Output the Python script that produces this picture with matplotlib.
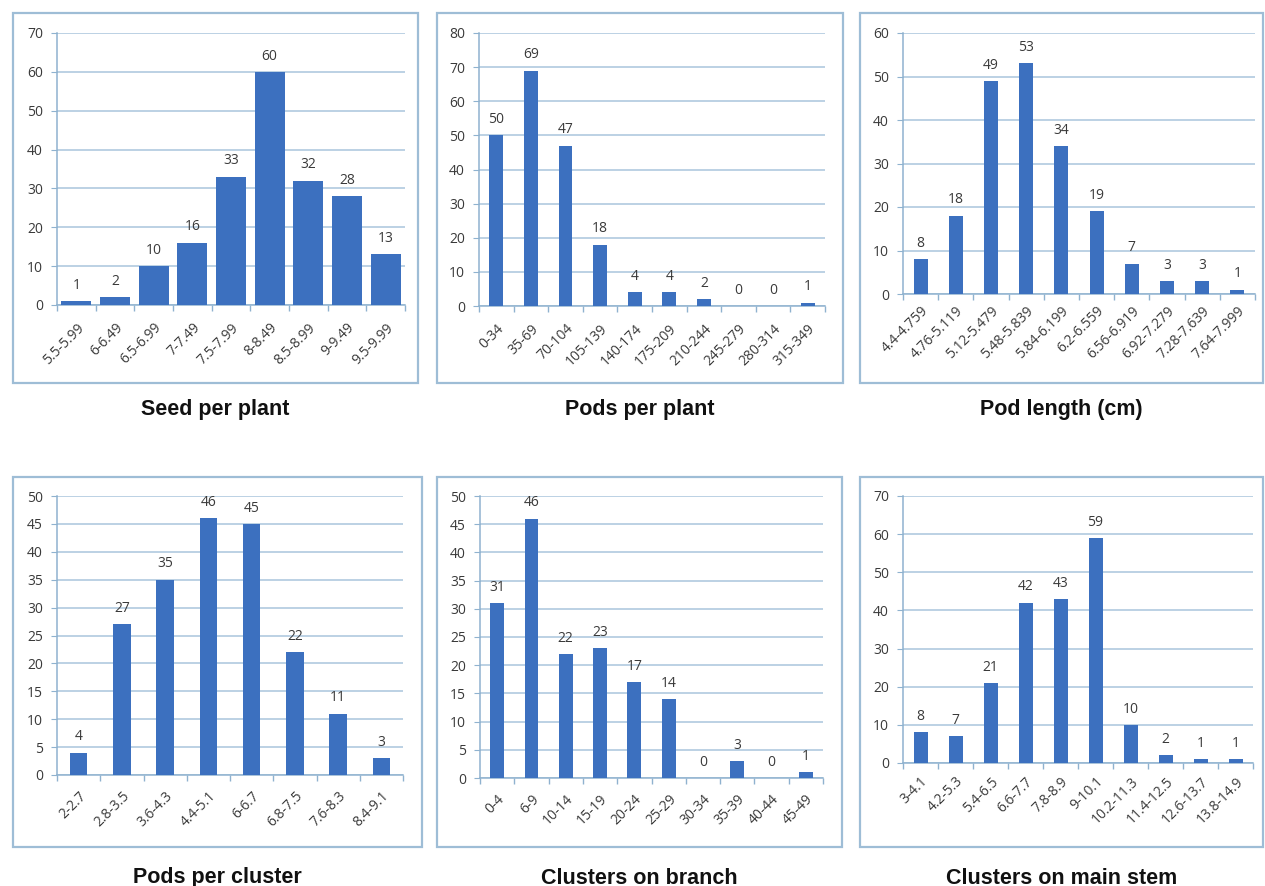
import matplotlib
matplotlib.use("Agg")
import matplotlib.pyplot as plt
from matplotlib.patches import Rectangle
import numpy as np

# class intervals and plant counts for each trait
seed_labels = ["5.5-5.99", "6-6.49", "6.5-6.99", "7-7.49", "7.5-7.99",
               "8-8.49", "8.5-8.99", "9-9.49", "9.5-9.99"]
seed_counts = [1, 2, 10, 16, 33, 60, 32, 28, 13]

pods_labels = ["0-34", "35-69", "70-104", "105-139", "140-174",
               "175-209", "210-244", "245-279", "280-314", "315-349"]
pods_counts = [50, 69, 47, 18, 4, 4, 2, 0, 0, 1]

length_labels = ["4.4-4.759", "4.76-5.119", "5.12-5.479", "5.48-5.839",
                 "5.84-6.199", "6.2-6.559", "6.56-6.919", "6.92-7.279",
                 "7.28-7.639", "7.64-7.999"]
length_counts = [8, 18, 49, 53, 34, 19, 7, 3, 3, 1]

cluster_labels = ["2-2.7", "2.8-3.5", "3.6-4.3", "4.4-5.1", "6-6.7",
                  "6.8-7.5", "7.6-8.3", "8.4-9.1"]
cluster_counts = [4, 27, 35, 46, 45, 22, 11, 3]

branch_labels = ["0-4", "6-9", "10-14", "15-19", "20-24", "25-29",
                 "30-34", "35-39", "40-44", "45-49"]
branch_counts = [31, 46, 22, 23, 17, 14, 0, 3, 0, 1]

stem_labels = ["3-4.1", "4.2-5.3", "5.4-6.5", "6.6-7.7", "7.8-8.9",
               "9-10.1", "10.2-11.3", "11.4-12.5", "12.6-13.7", "13.8-14.9"]
stem_counts = [8, 7, 21, 42, 43, 59, 10, 2, 1, 1]

titles = ["Seed per plant", "Pods per plant", "Pod length (cm)",
          "Pods per cluster", "Clusters on branch", "Clusters on main stem"]

W, H = 1265, 886
BAR = "#3c70bf"
GRID = "#a9c5dc"
AXIS = "#8fb2cf"
FRAME = "#9ebdd6"
TXT = "#3a3a3a"

plt.rcParams["font.family"] = ["Open Sans", "DejaVu Sans"]

fig = plt.figure(figsize=(W / 100, H / 100), dpi=100)


def px_axes(x0, y0, x1, y1):
    return fig.add_axes([x0 / W, 1 - y1 / H, (x1 - x0) / W, (y1 - y0) / H])


def frame(x0, y0, x1, y1):
    fig.patches.append(Rectangle((x0 / W, 1 - y1 / H), (x1 - x0) / W, (y1 - y0) / H,
                                 transform=fig.transFigure, fill=False,
                                 edgecolor=FRAME, linewidth=1.6))


def panel(box, fbox, labels, counts, ymax, step, width, title, title_y, pad):
    frame(*fbox)
    ax = px_axes(*box)
    n = len(counts)
    x = np.arange(n)
    ax.bar(x, counts, width=width, color=BAR, zorder=3)
    for xi, v in zip(x, counts):
        ax.annotate(str(v), (xi, v), xytext=(0, 6), textcoords="offset points",
                    ha="center", va="bottom", fontsize=10, color=TXT)
    ax.set_xlim(-0.5, n - 0.5)
    ax.set_ylim(0, ymax)
    ax.set_yticks(np.arange(0, ymax + 1, step))
    ax.yaxis.grid(True, color=GRID, linewidth=1.1, zorder=0)
    ax.set_axisbelow(True)
    ax.set_xticks(x)
    ax.set_xticklabels(labels, rotation=45, ha="right", rotation_mode="anchor",
                       fontsize=10, color=TXT)
    ax.set_xticks(np.arange(-0.5, n, 1), minor=True)
    ax.tick_params(axis="x", which="major", length=0, pad=pad)
    ax.tick_params(axis="x", which="minor", length=4, color=AXIS, width=1)
    ax.tick_params(axis="y", length=4, color=AXIS, labelsize=10, labelcolor=TXT, pad=6)
    for s in ("top", "right"):
        ax.spines[s].set_visible(False)
    for s in ("left", "bottom"):
        ax.spines[s].set_color(AXIS)
        ax.spines[s].set_linewidth(1.1)
    cx = (fbox[0] + fbox[2]) / 2
    fig.text(cx / W, 1 - title_y / H, title, ha="center", va="center",
             fontsize=15.5, fontweight="bold", family="Liberation Sans", color="#111111")


panel((57, 33, 405, 305), (13, 13, 418, 383), seed_labels, seed_counts,
      70, 10, 0.78, titles[0], 409, 11)
panel((479, 33, 825, 306), (437, 13, 843, 383), pods_labels, pods_counts,
      80, 10, 0.4, titles[1], 409, 11)
panel((903, 33, 1255, 294), (860, 13, 1263, 383), length_labels, length_counts,
      60, 10, 0.4, titles[2], 409, 7)
panel((57, 496, 403, 775), (13, 477, 422, 847), cluster_labels, cluster_counts,
      50, 5, 0.4, titles[3], 878, 10)
panel((480, 496, 823, 778), (437, 477, 842, 847), branch_labels, branch_counts,
      50, 5, 0.4, titles[4], 878, 10)
panel((903, 496, 1253, 763), (860, 477, 1263, 847), stem_labels, stem_counts,
      70, 10, 0.4, titles[5], 878, 8)

fig.savefig("out.png", dpi=100)
